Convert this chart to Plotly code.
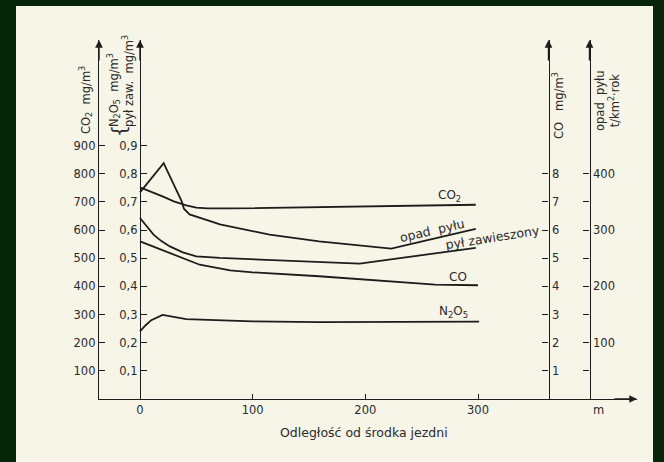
import plotly.graph_objects as go

# ---- data (distance from road centre, m) ----
co2_x = [0, 10, 20, 30, 41, 50, 60, 80, 159, 298]
co2_y = [752, 737, 720, 702, 688, 680, 677, 677, 682, 690]          # mg/m3

opad_x = [0, 21, 37, 39, 44, 71, 115, 159, 223, 298]
opad_y = [367, 419, 351, 338, 328, 310, 292, 280, 267, 302]          # t/km2 rok

pyl_x = [0, 6, 12, 19, 26.5, 38, 50, 71, 159, 195, 298]
pyl_y = [0.643, 0.612, 0.584, 0.561, 0.542, 0.521, 0.507, 0.501, 0.486, 0.481, 0.537]  # mg/m3

co_x = [0, 13, 26.5, 40, 53, 80, 100, 159, 262, 300]
co_y = [5.60, 5.40, 5.19, 4.97, 4.77, 4.57, 4.50, 4.36, 4.06, 4.04]  # mg/m3

n2o5_x = [0, 5, 10, 20, 41, 100, 159, 301]
n2o5_y = [0.240, 0.262, 0.280, 0.299, 0.284, 0.276, 0.273, 0.275]   # mg/m3

x_ticks = [0, 100, 200, 300]
co2_ticks = [100, 200, 300, 400, 500, 600, 700, 800, 900]
left2_ticks = [0.1, 0.2, 0.3, 0.4, 0.5, 0.6, 0.7, 0.8, 0.9]
left2_text = ["0,1", "0,2", "0,3", "0,4", "0,5", "0,6", "0,7", "0,8", "0,9"]
co_ticks = [1, 2, 3, 4, 5, 6, 7, 8]
opad_ticks = [50, 100, 150, 200, 250, 300, 350, 400]
opad_text = ["", "100", "", "200", "", "300", "", "400"]

# ---- layout geometry (pixels) ----
W, H = 664, 462
L, R, T, B = 99, 27, 40, 63
PW, PH = W - L - R, H - T - B
X0 = 140            # pixel of x = 0
XS = 1.1267         # px per metre
YS = 281.5          # px per 1.0 on the 0..1 scale

xr = [(L - X0) / XS, (L + PW - X0) / XS]
top = PH / YS

def px(x):
    return (x - L) / PW

def py(y):
    return (H - B - y) / PH

INK = "#1c1c1c"
TXT = "#2a2a2a"
FONT = "DejaVu Sans"
PAPER = "#f7f5e8"
BORDER = "#072609"

fig = go.Figure()
line = dict(color=INK, width=1.8)
fig.add_trace(go.Scatter(x=co2_x, y=co2_y, mode="lines", line=line, yaxis="y", name="CO2"))
fig.add_trace(go.Scatter(x=opad_x, y=opad_y, mode="lines", line=line, yaxis="y4", name="opad"))
fig.add_trace(go.Scatter(x=pyl_x, y=pyl_y, mode="lines", line=line, yaxis="y2", name="pyl"))
fig.add_trace(go.Scatter(x=co_x, y=co_y, mode="lines", line=line, yaxis="y3", name="CO"))
fig.add_trace(go.Scatter(x=n2o5_x, y=n2o5_y, mode="lines", line=line, yaxis="y2", name="N2O5"))

axcommon = dict(showgrid=False, zeroline=False, showline=True, linecolor=INK, linewidth=1.4,
                ticks="inside", ticklen=6, tickcolor=INK, tickwidth=1.2,
                tickfont=dict(family=FONT, size=11.5, color=TXT), fixedrange=True)

fig.update_layout(
    width=W, height=H,
    margin=dict(l=L, r=R, t=T, b=B, pad=0),
    paper_bgcolor=BORDER,
    plot_bgcolor="rgba(0,0,0,0)",
    showlegend=False,
    xaxis=dict(axcommon, range=xr, tickvals=x_ticks, ticklen=5, domain=[0, 1]),
    yaxis=dict(axcommon, range=[0, top * 1000], tickvals=co2_ticks, side="left", anchor="x"),
    yaxis2=dict(axcommon, range=[0, top], tickvals=left2_ticks, ticktext=left2_text,
                overlaying="y", side="left", anchor="free", position=px(X0)),
    yaxis3=dict(axcommon, range=[0, top * 10], tickvals=co_ticks,
                overlaying="y", side="right", anchor="free", position=px(548.5)),
    yaxis4=dict(axcommon, range=[0, top * 500], tickvals=opad_ticks, ticktext=opad_text,
                overlaying="y", side="right", anchor="free", position=px(589.5)),
)

# paper sheet
fig.add_shape(type="rect", xref="paper", yref="paper",
              x0=px(16), x1=px(653), y0=py(475), y1=py(6),
              fillcolor=PAPER, line=dict(width=0), layer="below")

ann = []
# axis arrowheads
for xpix in [99, 140, 548.5, 589.5]:
    ann.append(dict(xref="paper", yref="paper", x=px(xpix), y=1, ax=0, ay=22,
                    showarrow=True, arrowhead=2, arrowsize=1.1, arrowwidth=1.4,
                    arrowcolor=INK, text=""))
ann.append(dict(xref="paper", yref="paper", x=px(637), y=0, ax=-24, ay=0,
                showarrow=True, arrowhead=2, arrowsize=1.1, arrowwidth=1.4,
                arrowcolor=INK, text=""))

def label(text, x, y, angle=0, size=11.5, xa="center", ya="middle", **kw):
    d = dict(xref="paper", yref="paper", x=px(x), y=py(y), text=text, showarrow=False,
             textangle=angle, xanchor=xa, yanchor=ya,
             font=dict(family=FONT, size=size, color=TXT))
    d.update(kw)
    ann.append(d)

# axis titles
label("CO<sub>2</sub>  mg/m<sup>3</sup>", 86, 100, -90)
label("N<sub>2</sub>O<sub>5</sub>  mg/m<sup>3</sup><br>pył zaw.  mg/m<sup>3</sup>", 121, 129, -90,
      ya="bottom", align="left")
label("{", 119, 139, -90, size=19, ya="bottom")
label("CO   mg/m<sup>3</sup>", 558, 106, -90)
label("opad  pyłu<br>t/km<sup>2</sup>·rok", 607, 101, -90)
label("m", 598, 410)
label("Odległość od środka jezdni", 364, 432, size=12.5)

# curve labels (data coordinates on the 0..1 scale)
def clabel(text, xpix, ypix, angle=0, size=12):
    ann.append(dict(xref="x", yref="y2", x=(xpix - X0) / XS, y=(H - B - ypix) / YS,
                    text=text, showarrow=False, textangle=angle,
                    xanchor="center", yanchor="middle",
                    font=dict(family=FONT, size=size, color=TXT)))

clabel("CO<sub>2</sub>", 449, 196)
clabel("opad  pyłu", 432, 230, -13, 12.5)
clabel("pył zawieszony", 492, 237, -9, 12.5)
clabel("CO", 458, 277)
clabel("N<sub>2</sub>O<sub>5</sub>", 453, 312)

fig.update_layout(annotations=ann)
fig.write_html("out.html")
